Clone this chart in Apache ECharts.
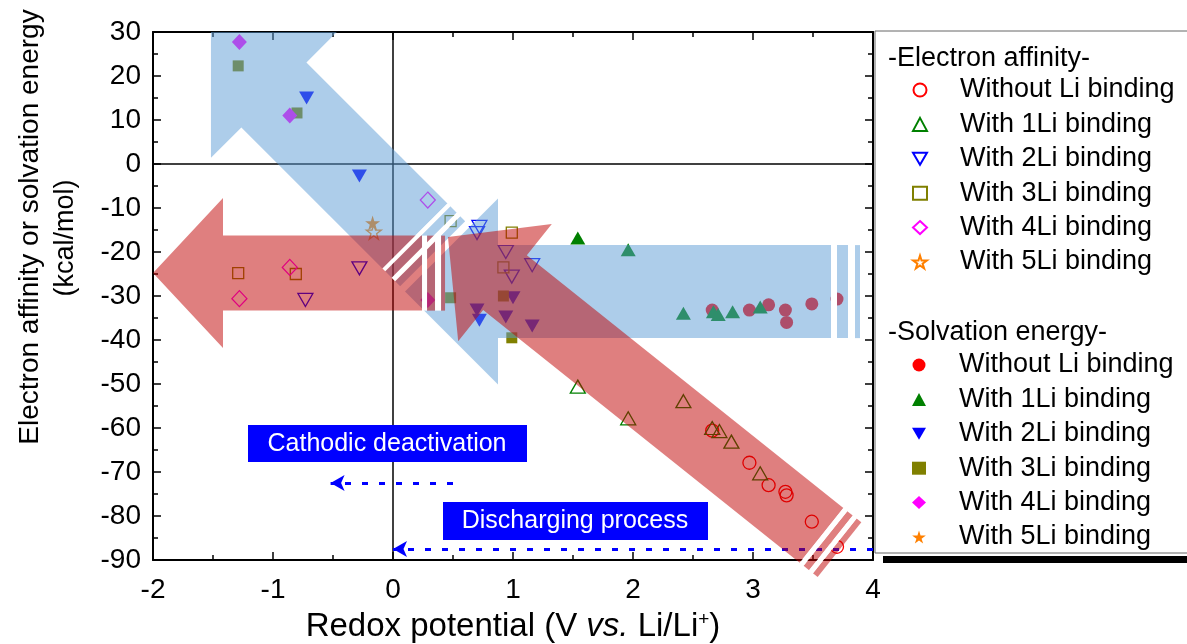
<!DOCTYPE html>
<html>
<head>
<meta charset="utf-8">
<script src="https://cdn.jsdelivr.net/npm/echarts@6/dist/echarts.min.js"></script>
<style>
  html, body { margin: 0; padding: 0; background: #fff; }
  #chart { width: 1187px; height: 644px; }
</style>
</head>
<body>
<div id="chart"></div>
<script>
// electron affinity, open symbols  [redox potential, kcal/mol]
const eaNoLi = [[2.66, -60.6], [2.97, -67.9], [3.13, -73.0], [3.27, -74.5], [3.28, -75.3], [3.49, -81.3], [3.70, -87.0]];
const ea1Li = [[1.54, -50.6], [1.96, -57.8], [2.42, -53.9], [2.66, -60.0], [2.72, -60.7], [2.82, -63.1], [3.06, -70.3]];
const ea2Li = [[-0.73, -30.9], [-0.28, -23.7], [0.70, -15.7], [0.72, -14.3], [0.94, -20.0], [0.99, -25.6], [1.16, -23.0]];
const ea3Li = [[-1.29, -24.8], [-0.81, -25.0], [0.48, -13.0], [0.92, -23.5], [0.99, -15.6]];
const ea4Li = [[-1.28, -30.6], [-0.86, -23.5], [0.29, -8.2]];
const ea5Li = [[-0.16, -15.4]];

// solvation energy, filled symbols
const seNoLi = [[2.66, -33.2], [2.97, -33.2], [3.13, -32.0], [3.27, -33.2], [3.28, -36.0], [3.49, -31.8], [3.70, -30.7]];
const se1Li = [[1.54, -16.8], [1.96, -19.5], [2.42, -33.9], [2.67, -33.6], [2.71, -34.2], [2.83, -33.6], [3.06, -32.5]];
const se2Li = [[-0.72, 15.0], [-0.28, -2.7], [0.70, -33.2], [0.72, -35.5], [0.94, -34.8], [1.00, -30.4], [1.16, -36.8]];
const se3Li = [[-1.29, 22.3], [-0.80, 11.6], [0.48, -30.4], [0.92, -30.0], [0.99, -39.5]];
const se4Li = [[-1.28, 27.7], [-0.86, 11.0], [0.29, -30.9]];
const se5Li = [[-0.17, -13.4]];

const seriesNames = ['Without Li binding', 'With 1Li binding', 'With 2Li binding',
  'With 3Li binding', 'With 4Li binding', 'With 5Li binding'];
const xTicks = [-2, -1, 0, 1, 2, 3, 4];
const yTicks = [-90, -80, -70, -60, -50, -40, -30, -20, -10, 0, 10, 20, 30];

const FONT = 'Liberation Sans, Arial, sans-serif';
const colors = ['#ff0000', '#008000', '#0000ff', '#808000', '#ff00ff', '#ff8000'];
const starPath = 'path://M50,0 L61,35 L98,35 L68,57 L79,91 L50,70 L21,91 L32,57 L2,35 L39,35 Z';
const downTriPath = 'path://M0,0 L15,0 L7.5,13 Z';
const symbols = [
  { symbol: 'circle', size: 13, rotate: 0, icon: 'circle' },
  { symbol: 'triangle', size: [15, 13], rotate: 0, icon: 'triangle' },
  { symbol: 'triangle', size: [15, 13], rotate: 180, icon: downTriPath },
  { symbol: 'rect', size: 11, rotate: 0, icon: 'rect' },
  { symbol: 'diamond', size: [15, 16], rotate: 0, icon: 'diamond' },
  { symbol: starPath, size: 15, rotate: 0, icon: starPath }
];

// shaded guide arrows (tip / tail in axis units, widths in px)
const arrows = [
  { tip: [-1.517, 30.0], tail: [0.183, -16.36], color: 'rgba(91,155,213,0.5)', half: 46, headLen: 89, headHalf: 89, stripes: [[4, 13], [18, 25]] },
  { tip: [0.10, -29.0], tail: [3.65, -29.0], color: 'rgba(91,155,213,0.5)', half: 46.5, headLen: 93, headHalf: 93, stripes: [[6, 17], [24, 29]] },
  { tip: [-2.0, -24.8], tail: [0.242, -24.8], color: 'rgba(192,0,0,0.5)', half: 37.5, headLen: 70, headHalf: 75, stripes: [[5, 13], [19, 23]] },
  { tip: [0.458, -16.6], tail: [3.571, -84.4], color: 'rgba(192,0,0,0.5)', half: 35, headLen: 73, headHalf: 75, stripes: [[5, 12], [17, 23]] }
];

const renderArrow = (params, api) => {
  const a = arrows[params.dataIndex];
  const tip = api.coord(a.tip);
  const tail = api.coord(a.tail);
  const len = Math.hypot(tip[0] - tail[0], tip[1] - tail[1]);
  const ux = (tip[0] - tail[0]) / len, uy = (tip[1] - tail[1]) / len;
  const nx = -uy, ny = ux;
  const P = (base, along, side) => [base[0] + ux * along + nx * side, base[1] + uy * along + ny * side];
  const children = [{
    type: 'polygon',
    shape: { points: [tip, P(tip, -a.headLen, a.headHalf), P(tip, -a.headLen, a.half), P(tail, 0, a.half),
      P(tail, 0, -a.half), P(tip, -a.headLen, -a.half), P(tip, -a.headLen, -a.headHalf)] },
    style: { fill: a.color }
  }];
  let prev = 0;
  a.stripes.forEach(s => {
    // white break then a thin piece of the shaft
    children.push({
      type: 'polygon', z2: 10,
      shape: { points: [P(tail, -prev, a.half), P(tail, -s[0], a.half), P(tail, -s[0], -a.half), P(tail, -prev, -a.half)] },
      style: { fill: '#fff' }
    });
    children.push({
      type: 'polygon',
      shape: { points: [P(tail, -s[0], a.half), P(tail, -s[1], a.half), P(tail, -s[1], -a.half), P(tail, -s[0], -a.half)] },
      style: { fill: a.color }
    });
    prev = s[1];
  });
  return { type: 'group', children };
};

const eaData = [eaNoLi, ea1Li, ea2Li, ea3Li, ea4Li, ea5Li];
const seData = [seNoLi, se1Li, se2Li, se3Li, se4Li, se5Li];

const scatterSeries = [];
eaData.forEach((d, i) => {
  scatterSeries.push({
    name: 'EA:' + seriesNames[i], type: 'scatter', data: d, z: 2,
    symbol: symbols[i].symbol, symbolSize: symbols[i].size, symbolRotate: symbols[i].rotate,
    itemStyle: { color: 'rgba(255,255,255,0)', borderColor: colors[i], borderWidth: 1.3, opacity: 1 }
  });
});
seData.forEach((d, i) => {
  scatterSeries.push({
    name: 'SE:' + seriesNames[i], type: 'scatter', data: d, z: 2,
    symbol: symbols[i].symbol, symbolSize: symbols[i].size, symbolRotate: symbols[i].rotate,
    itemStyle: { color: colors[i], opacity: 1 }
  });
});

const frameAxis = (extra) => Object.assign({
  type: 'value',
  axisLine: { onZero: false, lineStyle: { color: '#000', width: 2 } },
  axisTick: { inside: true, length: 8, lineStyle: { color: '#000', width: 1.5 } },
  minorTick: { show: true, splitNumber: 2, length: 5, lineStyle: { color: '#000', width: 1.5 } },
  splitLine: { show: false },
  axisLabel: { show: false }
}, extra);

const labelStyle = { show: true, fontSize: 28, color: '#000', fontFamily: FONT };

const legendBase = {
  orient: 'vertical', left: 912, itemWidth: 14, itemHeight: 13, itemGap: 4.4, padding: 0,
  selectedMode: false, formatter: n => n.slice(3),
  textStyle: { fontSize: 27, lineHeight: 30, color: '#000', fontFamily: FONT, padding: [0, 0, 0, 28] }
};
const legendItems = list => list.map((s, i) => ({ name: s.name, icon: symbols[i].icon }));

const myChart = echarts.init(document.getElementById('chart'));
const option = {
  animation: false,
  backgroundColor: '#fff',
  grid: { left: 153, right: 314, top: 32, bottom: 84, containLabel: false, outerBoundsMode: 'none' },
  xAxis: [
    frameAxis({
      position: 'bottom', min: xTicks[0], max: xTicks[xTicks.length - 1], interval: 1,
      axisLabel: Object.assign({ margin: 16 }, labelStyle),
      name: 'Redox potential (V {i|vs.} Li/Li{sup|+})',
      nameLocation: 'middle', nameGap: 50,
      nameTextStyle: {
        fontSize: 33, color: '#000', fontFamily: FONT,
        rich: {
          i: { fontSize: 33, fontStyle: 'italic', color: '#000', fontFamily: FONT },
          sup: { fontSize: 19, color: '#000', fontFamily: FONT, verticalAlign: 'top', padding: [0, 0, 14, 0] }
        }
      }
    }),
    frameAxis({ position: 'top', min: xTicks[0], max: xTicks[xTicks.length - 1], interval: 1 })
  ],
  yAxis: [
    frameAxis({
      position: 'left', min: yTicks[0], max: yTicks[yTicks.length - 1], interval: 10,
      axisLabel: Object.assign({ margin: 12 }, labelStyle)
    }),
    frameAxis({ position: 'right', min: yTicks[0], max: yTicks[yTicks.length - 1], interval: 10 })
  ],
  legend: [
    Object.assign({ top: 75, data: legendItems(scatterSeries.slice(0, 6)) }, legendBase),
    Object.assign({ top: 350, data: legendItems(scatterSeries.slice(6)) }, legendBase)
  ],
  graphic: [
    { type: 'rect', z: 0, shape: { x: 883, y: 556, width: 320, height: 7 }, style: { fill: '#000' } },
    { type: 'rect', z: 1, shape: { x: 875, y: 31, width: 330, height: 522 }, style: { fill: '#fff', stroke: '#666', lineWidth: 1 } },
    { type: 'text', z: 10, left: 888, top: 45, style: { text: '-Electron affinity-', fontSize: 27, fill: '#000', fontFamily: FONT } },
    { type: 'text', z: 10, left: 888, top: 319, style: { text: '-Solvation energy-', fontSize: 27, fill: '#000', fontFamily: FONT } },
    {
      type: 'text', z: 10, x: 30, y: 227, rotation: Math.PI / 2,
      style: { text: 'Electron affinity or solvation energy', fontSize: 28, fill: '#000', fontFamily: FONT, align: 'center', verticalAlign: 'middle' }
    },
    {
      type: 'text', z: 10, x: 66, y: 238, rotation: Math.PI / 2,
      style: { text: '(kcal/mol)', fontSize: 27, fill: '#000', fontFamily: FONT, align: 'center', verticalAlign: 'middle' }
    },
    { type: 'rect', z: 10, shape: { x: 248, y: 425, width: 279, height: 37 }, style: { fill: '#0000ff' } },
    {
      type: 'text', z: 11, x: 387, y: 444,
      style: { text: 'Cathodic deactivation', fontSize: 25, fill: '#fff', fontFamily: FONT, align: 'center', verticalAlign: 'middle' }
    },
    { type: 'rect', z: 10, shape: { x: 443, y: 502, width: 265, height: 38 }, style: { fill: '#0000ff' } },
    {
      type: 'text', z: 11, x: 575, y: 521,
      style: { text: 'Discharging process', fontSize: 25, fill: '#fff', fontFamily: FONT, align: 'center', verticalAlign: 'middle' }
    }
  ],
  series: [
    {
      name: 'zero lines', type: 'scatter', data: [], z: 1, silent: true,
      markLine: {
        silent: true, symbol: 'none', label: { show: false },
        lineStyle: { color: '#000', width: 1.5, type: 'solid' },
        data: [{ xAxis: 0 }, { yAxis: 0 }]
      }
    },
    {
      name: 'process arrows', type: 'scatter', data: [], z: 3, silent: true,
      markLine: {
        silent: true, symbol: ['none', 'arrow'], symbolSize: [12, 14], label: { show: false },
        lineStyle: { color: '#0000ff', width: 3, type: [6, 11] },
        data: [
          [{ coord: [0.5, -72.5] }, { coord: [-0.52, -72.5] }],
          [{ coord: [4.0, -87.5] }, { coord: [0.0, -87.5] }]
        ]
      }
    },
    ...scatterSeries,
    {
      name: 'arrows', type: 'custom', z: 5, silent: true,
      data: arrows.map(a => [a.tip[0], a.tip[1], a.tail[0], a.tail[1]]),
      encode: { x: [0, 2], y: [1, 3] },
      renderItem: renderArrow
    }
  ]
};
myChart.setOption(option);
</script>
</body>
</html>
